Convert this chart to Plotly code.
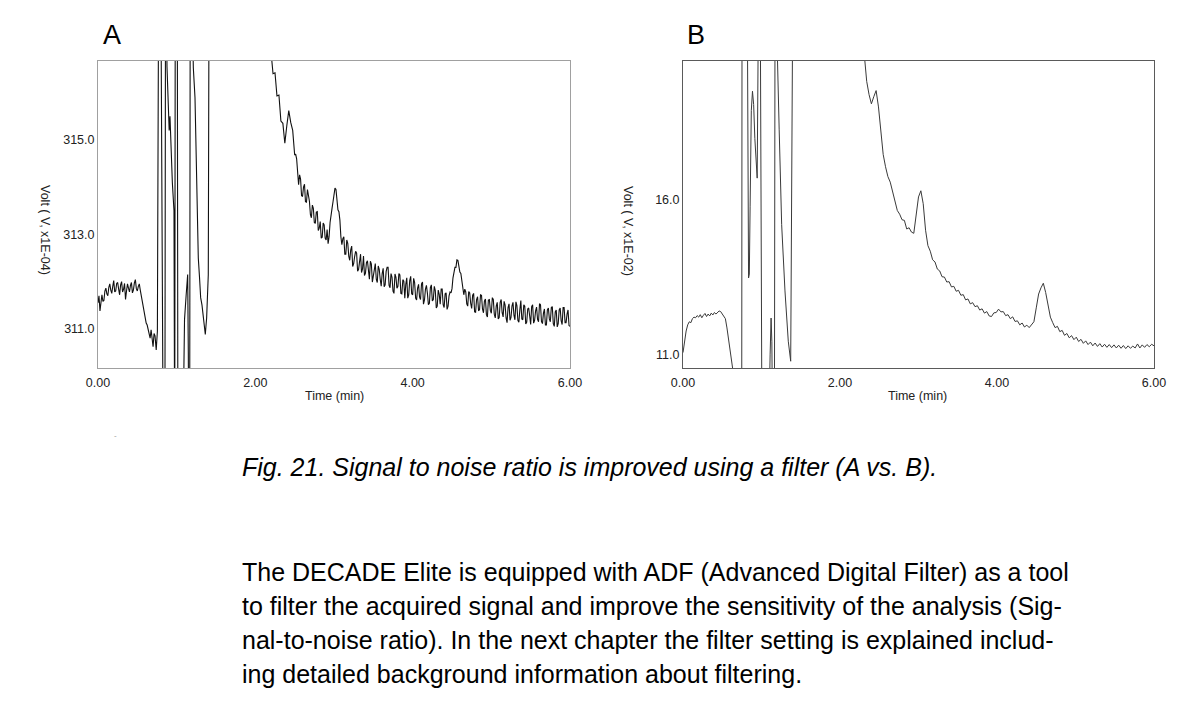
import plotly.graph_objects as go

# page is 1186x709; the browser body keeps its 8px margin, so the figure is 16px smaller
PAGE_W, PAGE_H, BODY = 1186, 709, 8
W, H = PAGE_W - 2 * BODY, PAGE_H - 2 * BODY

# ---- panel A: unfiltered signal (Volt x1E-04) ----
time_a = [
    0.000, 0.025, 0.050, 0.075, 0.100, 0.125, 0.150, 0.175, 0.200, 0.225,
    0.250, 0.275, 0.300, 0.325, 0.350, 0.375, 0.400, 0.425, 0.450, 0.475,
    0.500, 0.525, 0.550, 0.575, 0.600, 0.625, 0.650, 0.675, 0.700, 0.725,
    0.740, 0.755,
    # injection disturbance
    0.770, 0.800, 0.830, 0.850, 0.858, 0.868, 0.877, 0.890, 0.905, 0.915,
    0.930, 0.945, 0.966, 0.975, 0.982, 1.008, 1.016, 1.075, 1.100, 1.120,
    1.140, 1.148, 1.155, 1.165, 1.172, 1.195, 1.212, 1.233, 1.254, 1.275,
    1.290, 1.305, 1.322, 1.339, 1.352, 1.364, 1.372, 1.381, 1.402, 1.411,
    2.150,
    # baseline decay
    2.175, 2.200, 2.225, 2.250, 2.275, 2.300, 2.325, 2.350, 2.375, 2.400,
    2.425, 2.450, 2.475, 2.500, 2.525, 2.550, 2.575, 2.600, 2.625, 2.650,
    2.675, 2.700, 2.725, 2.750, 2.775, 2.800, 2.825, 2.850, 2.875, 2.900,
    2.925, 2.950, 2.975, 3.000, 3.025, 3.050, 3.075, 3.100, 3.125, 3.150,
    3.175, 3.200, 3.225, 3.250, 3.275, 3.300, 3.325, 3.350, 3.375, 3.400,
    3.425, 3.450, 3.475, 3.500, 3.525, 3.550, 3.575, 3.600, 3.625, 3.650,
    3.675, 3.700, 3.725, 3.750, 3.775, 3.800, 3.825, 3.850, 3.875, 3.900,
    3.925, 3.950, 3.975, 4.000, 4.025, 4.050, 4.075, 4.100, 4.125, 4.150,
    4.175, 4.200, 4.225, 4.250, 4.275, 4.300, 4.325, 4.350, 4.375, 4.400,
    4.425, 4.450, 4.475, 4.500, 4.525, 4.550, 4.575, 4.600, 4.625, 4.650,
    4.675, 4.700, 4.725, 4.750, 4.775, 4.800, 4.825, 4.850, 4.875, 4.900,
    4.925, 4.950, 4.975, 5.000, 5.025, 5.050, 5.075, 5.100, 5.125, 5.150,
    5.175, 5.200, 5.225, 5.250, 5.275, 5.300, 5.325, 5.350, 5.375, 5.400,
    5.425, 5.450, 5.475, 5.500, 5.525, 5.550, 5.575, 5.600, 5.625, 5.650,
    5.675, 5.700, 5.725, 5.750, 5.775, 5.800, 5.825, 5.850, 5.875, 5.900,
    5.925, 5.950, 5.975, 6.000,
]
volt_a = [
    311.55, 311.38, 311.72, 311.60, 311.86, 311.70, 311.95, 311.75, 312.02, 311.80,
    311.98, 311.72, 312.00, 311.84, 311.62, 311.95, 311.78, 311.98, 311.82, 312.04,
    311.80, 311.95, 311.70, 311.42, 311.22, 311.08, 310.90, 310.98, 310.62, 310.85,
    310.55, 310.95,
    318.00, 318.00, 308.00, 308.00, 318.00, 318.00, 316.55, 315.90, 315.20, 315.50,
    314.60, 314.10, 313.50, 308.00, 318.00, 318.00, 308.00, 308.00, 311.20, 311.70,
    312.15, 310.50, 308.00, 308.00, 318.00, 318.00, 316.52, 315.89, 314.27, 312.50,
    312.10, 311.66, 311.50, 311.23, 311.00, 310.88, 311.05, 311.23, 312.15, 318.00,
    318.00,
    317.00, 316.85, 316.40, 316.42, 315.93, 315.95, 315.40, 315.35, 314.93, 315.30,
    315.62, 315.37, 315.20, 314.68, 314.60, 314.05, 314.17, 313.80, 314.06, 313.68,
    313.85, 313.42, 313.62, 313.25, 313.47, 313.08, 313.27, 312.94, 313.20, 312.88,
    312.80, 313.25, 313.55, 313.90, 313.95, 313.52, 313.30, 312.78, 312.95, 312.58,
    312.81, 312.45, 312.75, 312.38, 312.64, 312.22, 312.52, 312.19, 312.54, 312.18,
    312.44, 312.05, 312.37, 312.10, 312.38, 311.98, 312.26, 311.90, 312.28, 311.93,
    312.30, 311.92, 312.17, 311.80, 312.16, 311.86, 312.17, 311.75, 312.04, 311.65,
    312.08, 311.72, 312.11, 311.72, 311.98, 311.61, 311.94, 311.62, 311.99, 311.61,
    311.92, 311.51, 311.87, 311.59, 311.90, 311.44, 311.82, 311.52, 311.84, 311.45,
    311.76, 311.48, 311.78, 311.85, 312.20, 312.30, 312.45, 312.20, 312.05, 311.72,
    311.78, 311.48, 311.76, 311.43, 311.75, 311.35, 311.68, 311.40, 311.71, 311.34,
    311.63, 311.25, 311.62, 311.33, 311.62, 311.23, 311.56, 311.24, 311.62, 311.25,
    311.50, 311.13, 311.53, 311.24, 311.56, 311.19, 311.49, 311.14, 311.60, 311.19,
    311.48, 311.14, 311.44, 311.09, 311.51, 311.18, 311.46, 311.15, 311.51, 311.11,
    311.42, 311.08, 311.44, 311.15, 311.47, 311.05, 311.40, 311.11, 311.44, 311.09,
    311.45, 311.13, 311.40, 311.05,
]
# extra in-between samples of the noisy baseline in panel A
time_a_mid = [
    0.0125, 0.0375, 0.0625, 0.0875, 0.1125, 0.1375, 0.1625, 0.1875, 0.2125, 0.2375,
    0.2625, 0.2875, 0.3125, 0.3375, 0.3625, 0.3875, 0.4125, 0.4375, 0.4625, 0.4875,
    0.5125, 0.5375, 0.5625, 0.5875, 0.6125, 0.6375, 0.6625, 0.6875, 0.7125,
    2.5125, 2.5375, 2.5625, 2.5875, 2.6125, 2.6375, 2.6625, 2.6875, 2.7125, 2.7375,
    2.7625, 2.7875, 2.8125, 2.8375, 2.8625, 2.8875, 2.9125, 2.9375, 2.9625, 2.9875,
    3.0125, 3.0375, 3.0625, 3.0875, 3.1125, 3.1375, 3.1625, 3.1875, 3.2125, 3.2375,
    3.2625, 3.2875, 3.3125, 3.3375, 3.3625, 3.3875, 3.4125, 3.4375, 3.4625, 3.4875,
    3.5125, 3.5375, 3.5625, 3.5875, 3.6125, 3.6375, 3.6625, 3.6875, 3.7125, 3.7375,
    3.7625, 3.7875, 3.8125, 3.8375, 3.8625, 3.8875, 3.9125, 3.9375, 3.9625, 3.9875,
    4.0125, 4.0375, 4.0625, 4.0875, 4.1125, 4.1375, 4.1625, 4.1875, 4.2125, 4.2375,
    4.2625, 4.2875, 4.3125, 4.3375, 4.3625, 4.3875, 4.4125, 4.4375, 4.4625, 4.4875,
    4.5125, 4.5375, 4.5625, 4.5875, 4.6125, 4.6375, 4.6625, 4.6875, 4.7125, 4.7375,
    4.7625, 4.7875, 4.8125, 4.8375, 4.8625, 4.8875, 4.9125, 4.9375, 4.9625, 4.9875,
    5.0125, 5.0375, 5.0625, 5.0875, 5.1125, 5.1375, 5.1625, 5.1875, 5.2125, 5.2375,
    5.2625, 5.2875, 5.3125, 5.3375, 5.3625, 5.3875, 5.4125, 5.4375, 5.4625, 5.4875,
    5.5125, 5.5375, 5.5625, 5.5875, 5.6125, 5.6375, 5.6625, 5.6875, 5.7125, 5.7375,
    5.7625, 5.7875, 5.8125, 5.8375, 5.8625, 5.8875, 5.9125, 5.9375, 5.9625, 5.9875,
]
volt_a_mid = [
    311.70, 311.62, 311.58, 311.80, 311.74, 311.88, 311.82, 311.90, 311.78, 311.96,
    311.84, 311.93, 311.78, 311.96, 311.80, 311.86, 311.92, 311.76, 311.97, 311.85,
    311.90, 311.82, 311.58, 311.35, 311.12, 310.98, 310.80, 310.76, 310.90,
    314.70, 314.25, 314.26, 313.82, 314.00, 313.69, 313.95, 313.70, 313.35, 313.55,
    313.23, 313.48, 313.13, 312.92, 313.24, 312.92, 313.10, 312.95, 313.46, 313.69,
    313.98, 313.70, 313.48, 312.95, 312.91, 312.58, 312.88, 312.54, 312.67, 312.32,
    312.53, 312.60, 312.26, 312.58, 312.27, 312.13, 312.40, 312.16, 312.43, 311.99,
    312.23, 312.05, 312.33, 312.05, 312.17, 311.89, 312.21, 312.30, 311.87, 312.09,
    311.75, 312.09, 311.90, 312.14, 311.74, 312.01, 311.94, 311.65, 312.02, 311.74,
    312.07, 311.65, 311.86, 311.67, 311.95, 311.52, 311.84, 311.75, 311.54, 311.93,
    311.62, 311.81, 311.48, 311.73, 311.84, 311.51, 311.74, 311.41, 311.70, 311.76,
    312.08, 312.30, 312.46, 312.29, 312.17, 311.84, 311.84, 311.53, 311.79, 311.54,
    311.71, 311.36, 311.62, 311.39, 311.72, 311.42, 311.59, 311.30, 311.61, 311.39,
    311.66, 311.31, 311.48, 311.21, 311.56, 311.34, 311.58, 311.23, 311.45, 311.18,
    311.48, 311.29, 311.57, 311.18, 311.40, 311.21, 311.51, 311.10, 311.42, 311.27,
    311.47, 311.12, 311.38, 311.20, 311.53, 311.15, 311.33, 311.08, 311.40, 311.21,
    311.45, 311.11, 311.36, 311.04, 311.40, 311.17, 311.45, 311.13, 311.31, 311.07,
]

# ---- panel B: filtered signal (Volt x1E-02) ----
time_b = [
    0.00, 0.02, 0.04, 0.06, 0.08, 0.10, 0.12, 0.14, 0.16, 0.18,
    0.20, 0.22, 0.24, 0.26, 0.28, 0.30, 0.32, 0.34, 0.36, 0.38,
    0.40, 0.42, 0.44, 0.46, 0.48, 0.50, 0.52, 0.54, 0.56, 0.58,
    0.60, 0.62, 0.64,
    # injection disturbance
    0.680, 0.748, 0.752, 0.820, 0.835, 0.845, 0.855, 0.870, 0.885, 0.900,
    0.915, 0.930, 0.945, 0.960, 0.985, 1.005, 1.095, 1.110, 1.122, 1.132,
    1.140, 1.165, 1.172, 1.190, 1.205, 1.214, 1.225, 1.257, 1.299, 1.341,
    1.372, 1.397, 2.280,
    # baseline decay
    2.31, 2.34, 2.37, 2.40, 2.43, 2.46, 2.49, 2.52, 2.55, 2.58,
    2.61, 2.64, 2.67, 2.70, 2.73, 2.76, 2.79, 2.82, 2.85, 2.88,
    2.91, 2.94, 2.97, 3.00, 3.03, 3.06, 3.09, 3.12, 3.15, 3.18,
    3.21, 3.24, 3.27, 3.30, 3.33, 3.36, 3.39, 3.42, 3.45, 3.48,
    3.51, 3.54, 3.57, 3.60, 3.63, 3.66, 3.69, 3.72, 3.75, 3.78,
    3.81, 3.84, 3.87, 3.90, 3.93, 3.96, 3.99, 4.02, 4.05, 4.08,
    4.11, 4.14, 4.17, 4.20, 4.23, 4.26, 4.29, 4.32, 4.35, 4.38,
    4.41, 4.44, 4.47, 4.50, 4.53, 4.56, 4.59, 4.62, 4.65, 4.68,
    4.71, 4.74, 4.77, 4.80, 4.83, 4.86, 4.89, 4.92, 4.95, 4.98,
    5.01, 5.04, 5.07, 5.10, 5.13, 5.16, 5.19, 5.22, 5.25, 5.28,
    5.31, 5.34, 5.37, 5.40, 5.43, 5.46, 5.49, 5.52, 5.55, 5.58,
    5.61, 5.64, 5.67, 5.70, 5.73, 5.76, 5.79, 5.82, 5.85, 5.88,
    5.91, 5.94, 5.97, 6.00,
]
volt_b = [
    11.05, 11.45, 11.75, 11.95, 12.05, 12.02, 12.15, 12.20, 12.18, 12.25,
    12.20, 12.28, 12.18, 12.26, 12.32, 12.22, 12.30, 12.24, 12.33, 12.27,
    12.35, 12.30, 12.36, 12.40, 12.38, 12.30, 12.25, 12.15, 11.85, 11.50,
    11.10, 10.75, 10.40,
    9.00, 9.00, 22.00, 22.00, 13.47, 13.60, 15.80, 18.90, 19.53, 19.10,
    18.00, 17.30, 16.71, 22.00, 22.00, 9.00, 9.00, 11.00, 12.17, 11.40,
    9.00, 9.00, 22.00, 22.00, 20.00, 19.26, 18.30, 15.20, 13.05, 11.42,
    10.77, 22.00, 22.00,
    20.70, 19.85, 19.42, 19.12, 19.35, 19.55, 19.02, 18.12, 17.48, 17.08,
    16.76, 16.58, 16.26, 15.98, 15.66, 15.54, 15.36, 15.34, 15.06, 15.10,
    14.96, 14.92, 15.50, 16.10, 16.30, 15.88, 15.02, 14.52, 14.34, 14.06,
    13.99, 13.76, 13.70, 13.51, 13.50, 13.34, 13.35, 13.18, 13.20, 13.04,
    13.07, 12.91, 12.93, 12.76, 12.79, 12.63, 12.67, 12.54, 12.57, 12.43,
    12.47, 12.33, 12.38, 12.24, 12.22, 12.34, 12.35, 12.46, 12.37, 12.38,
    12.25, 12.28, 12.15, 12.21, 12.06, 12.08, 11.95, 12.01, 11.88, 11.94,
    11.86, 11.97, 12.05, 12.50, 12.95, 13.15, 13.30, 13.00, 12.60, 12.20,
    12.02, 11.86, 11.90, 11.73, 11.77, 11.61, 11.67, 11.53, 11.60, 11.47,
    11.55, 11.41, 11.48, 11.35, 11.43, 11.31, 11.39, 11.27, 11.36, 11.25,
    11.34, 11.23, 11.32, 11.22, 11.31, 11.21, 11.30, 11.20, 11.29, 11.19,
    11.28, 11.18, 11.27, 11.19, 11.26, 11.20, 11.33, 11.20, 11.30, 11.22,
    11.31, 11.24, 11.32, 11.27,
]

x_ticks = [0, 2, 4, 6]
y_ticks_a = [311, 313, 315]
y_ticks_b = [11, 16]

caption = "Fig. 21. Signal to noise ratio is improved using a filter (A vs. B)."
body_lines = [
    "The DECADE Elite is equipped with ADF (Advanced Digital Filter) as a tool",
    "to filter the acquired signal and improve the sensitivity of the analysis (Sig-",
    "nal-to-noise ratio). In the next chapter the filter setting is explained includ-",
    "ing detailed background information about filtering.",
]

FONT = "Liberation Sans, Arial, sans-serif"


# positions below are page pixels; convert to paper fractions of the figure
def px_x(p):
    return (p - BODY) / W


def px_y(p):
    return 1 - (p - BODY) / H


pts_a = sorted(zip(time_a + time_a_mid, volt_a + volt_a_mid))

fig = go.Figure()
fig.add_trace(go.Scatter(x=[p[0] for p in pts_a], y=[p[1] for p in pts_a], mode="lines",
                         line=dict(color="#111111", width=1.1), xaxis="x", yaxis="y"))
fig.add_trace(go.Scatter(x=time_b, y=volt_b, mode="lines",
                         line=dict(color="#3a3a3a", width=1), xaxis="x2", yaxis="y2"))

axis_common = dict(showgrid=False, zeroline=False, showline=True, mirror=True,
                   ticks="", linewidth=1, automargin=False,
                   tickfont=dict(family=FONT, size=12.5, color="#222222"))

fig.update_layout(
    width=W, height=H, autosize=False,
    margin=dict(l=0, r=0, t=0, b=0, pad=0, autoexpand=False),
    paper_bgcolor="white", plot_bgcolor="white",
    showlegend=False,
    xaxis=dict(domain=[px_x(98), px_x(570)], range=[0, 6], tickvals=x_ticks,
               tickformat=".2f", anchor="y", linecolor="#a0a0a0",
               ticklabelstandoff=3, **axis_common),
    yaxis=dict(domain=[px_y(368), px_y(61)], range=[310.17, 316.67], tickvals=y_ticks_a,
               tickformat=".1f", anchor="x", linecolor="#a0a0a0", **axis_common),
    xaxis2=dict(domain=[px_x(683), px_x(1154)], range=[0, 6], tickvals=x_ticks,
                tickformat=".2f", anchor="y2", linecolor="#5a5a5a",
                ticklabelstandoff=3, **axis_common),
    yaxis2=dict(domain=[px_y(368), px_y(61)], range=[10.55, 20.51], tickvals=y_ticks_b,
                tickformat=".1f", anchor="x2", linecolor="#5a5a5a", **axis_common),
)

ann = []


def text(x, y, s, size, xanchor="center", color="#000000", **kw):
    ann.append(dict(x=px_x(x), y=px_y(y), xref="paper", yref="paper", text=s,
                    showarrow=False, xanchor=xanchor, yanchor="middle",
                    font=dict(family=FONT, size=size, color=color), **kw))


text(112, 35, "A", 27)
text(696, 35, "B", 27)
text(45, 230, "Volt ( V, x1E-04)", 12.5, textangle=90, color="#222222")
text(628, 231, "Volt ( V, x1E-02)", 12.5, textangle=90, color="#222222")
text(334, 396, "Time (min)", 12.5, color="#222222")
text(917, 396, "Time (min)", 12.5, color="#222222")
text(115, 435, "-", 8, color="#999999")
text(240, 467, "<i>" + caption + "</i>", 25, xanchor="left")
for i, line in enumerate(body_lines):
    text(240, 572 + 34 * i, line, 25, xanchor="left")

fig.update_layout(annotations=ann)
fig.write_html("out.html")
